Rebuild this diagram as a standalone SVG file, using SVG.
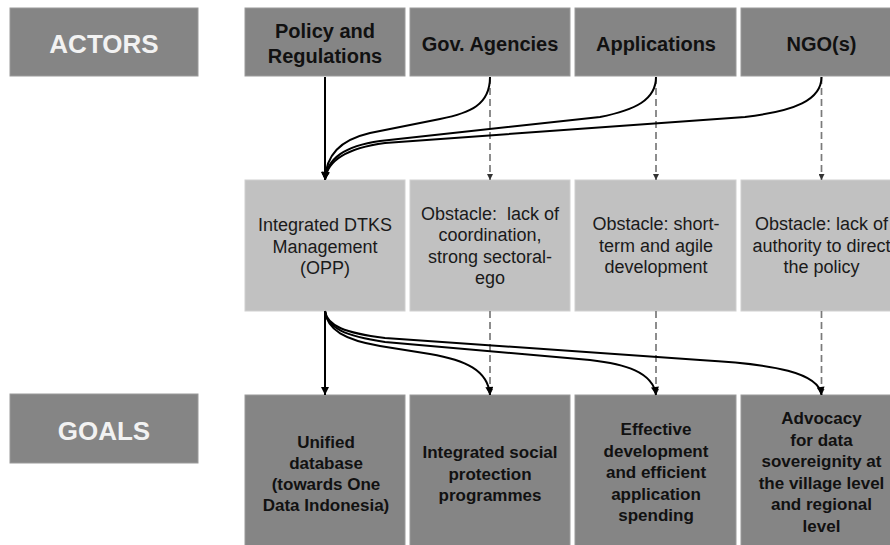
<svg xmlns="http://www.w3.org/2000/svg" width="890" height="545" viewBox="0 0 890 545">
<style>
.dark{fill:#858585;stroke:#9a9a9a;stroke-width:1}
.light{fill:#c1c1c1;stroke:#cfcfcf;stroke-width:1}
.lbl{font-family:"Liberation Sans",Arial,sans-serif;font-weight:bold;font-size:26px;fill:#f2f2f2;text-anchor:middle}
.hd{font-family:"Liberation Sans",Arial,sans-serif;font-weight:bold;font-size:20px;fill:#111;text-anchor:middle}
.mid{font-family:"Liberation Sans",Arial,sans-serif;font-size:18px;fill:#1a1a1a;text-anchor:middle}
.gl{font-family:"Liberation Sans",Arial,sans-serif;font-weight:bold;font-size:17px;fill:#111;text-anchor:middle}
.solid{fill:none;stroke:#000;stroke-width:2;marker-end:url(#ah)}
.dash{fill:none;stroke:#7a7a7a;stroke-width:1.7;stroke-dasharray:7 4;marker-end:url(#ahs)}
</style>
<defs>
<marker id="ah" viewBox="0 0 10 10" refX="10" refY="5" markerWidth="9" markerHeight="8" markerUnits="userSpaceOnUse" orient="auto"><path d="M0,0 L10,5 L0,10 z" fill="#000"/></marker>
<marker id="ahs" viewBox="0 0 10 10" refX="10" refY="5" markerWidth="6" markerHeight="6" markerUnits="userSpaceOnUse" orient="auto"><path d="M0,0 L10,5 L0,10 z" fill="#333"/></marker>
</defs>
<rect width="890" height="545" fill="#fff"/>

<g id="actors-label"><rect class="dark" x="10" y="8" width="188" height="68"/><text class="lbl" x="104" y="53">ACTORS</text></g>
<g id="goals-label"><rect class="dark" x="10" y="394" width="188" height="69"/><text class="lbl" x="104" y="440">GOALS</text></g>

<g id="actor-policy"><rect class="dark" x="245" y="8" width="160" height="68"/><text class="hd" x="325" y="37.5">Policy and</text><text class="hd" x="325" y="63">Regulations</text></g>
<g id="actor-gov"><rect class="dark" x="410" y="8" width="160" height="68"/><text class="hd" x="490" y="50.5">Gov. Agencies</text></g>
<g id="actor-apps"><rect class="dark" x="575" y="8" width="161" height="68"/><text class="hd" x="656" y="50.5">Applications</text></g>
<g id="actor-ngo"><rect class="dark" x="741" y="8" width="170" height="68"/><text class="hd" x="821.5" y="50.5">NGO(s)</text></g>

<g id="mid-policy"><rect class="light" x="245" y="180" width="160" height="131"/><text class="mid" x="325" y="231">Integrated DTKS</text><text class="mid" x="325" y="252.5">Management</text><text class="mid" x="325" y="274">(OPP)</text></g>
<g id="mid-gov"><rect class="light" x="410" y="180" width="160" height="131"/><text class="mid" x="490" y="219.5" xml:space="preserve">Obstacle:  lack of</text><text class="mid" x="490" y="241">coordination,</text><text class="mid" x="490" y="262.5">strong sectoral-</text><text class="mid" x="490" y="284">ego</text></g>
<g id="mid-apps"><rect class="light" x="575" y="180" width="161" height="131"/><text class="mid" x="656" y="230">Obstacle: short-</text><text class="mid" x="656" y="251.5">term and agile</text><text class="mid" x="656" y="273">development</text></g>
<g id="mid-ngo"><rect class="light" x="741" y="180" width="170" height="131"/><text class="mid" x="821.5" y="230">Obstacle: lack of</text><text class="mid" x="821.5" y="251.5">authority to direct</text><text class="mid" x="821.5" y="273">the policy</text></g>

<g id="goal-policy"><rect class="dark" x="245" y="395" width="160" height="170"/><text class="gl" x="326" y="447.5">Unified</text><text class="gl" x="326" y="469">database</text><text class="gl" x="326" y="490">(towards One</text><text class="gl" x="326" y="511">Data Indonesia)</text></g>
<g id="goal-gov"><rect class="dark" x="410" y="395" width="160" height="170"/><text class="gl" x="490" y="458">Integrated social</text><text class="gl" x="490" y="479.5">protection</text><text class="gl" x="490" y="501">programmes</text></g>
<g id="goal-apps"><rect class="dark" x="575" y="395" width="161" height="170"/><text class="gl" x="656" y="435">Effective</text><text class="gl" x="656" y="456.5">development</text><text class="gl" x="656" y="478">and efficient</text><text class="gl" x="656" y="499.5">application</text><text class="gl" x="656" y="521">spending</text></g>
<g id="goal-ngo"><rect class="dark" x="741" y="395" width="170" height="170"/><text class="gl" x="821.5" y="424">Advocacy</text><text class="gl" x="821.5" y="445.6">for data</text><text class="gl" x="821.5" y="467.2">sovereignity at</text><text class="gl" x="821.5" y="488.8">the village level</text><text class="gl" x="821.5" y="510.4">and regional</text><text class="gl" x="821.5" y="532">level</text></g>

<g id="connectors">
<path class="dash" d="M490,77 L490,180"/>
<path class="dash" d="M656,77 L656,180"/>
<path class="dash" d="M821.5,77 L821.5,180"/>
<path class="dash" d="M490,311 L490,395"/>
<path class="dash" d="M656,311 L656,395"/>
<path class="dash" d="M821.5,311 L821.5,395"/>
<path class="solid" d="M325,77 L325,180"/>
<path class="solid" d="M490,77 C490,105 470,113 440,119 L370,133 C340,140 326,155 325,180"/>
<path class="solid" d="M656,77 C656,100 635,110 600,117 L380,141 C345,146 327,158 325,180"/>
<path class="solid" d="M821.5,77 C821.5,100 795,111 745,117 L385,143 C348,148 327,160 325,180"/>
<path class="solid" d="M325,311 L325,395"/>
<path class="solid" d="M325,311 C327,330 345,340 380,346 L430,354 C465,360 488,370 490,395"/>
<path class="solid" d="M325,311 C327,328 345,336 385,342 L590,360 C625,364 653,372 656,395"/>
<path class="solid" d="M325,311 C327,326 345,333 385,338 L700,360 C775,364 819,373 821.5,395"/>
</g>
</svg>
